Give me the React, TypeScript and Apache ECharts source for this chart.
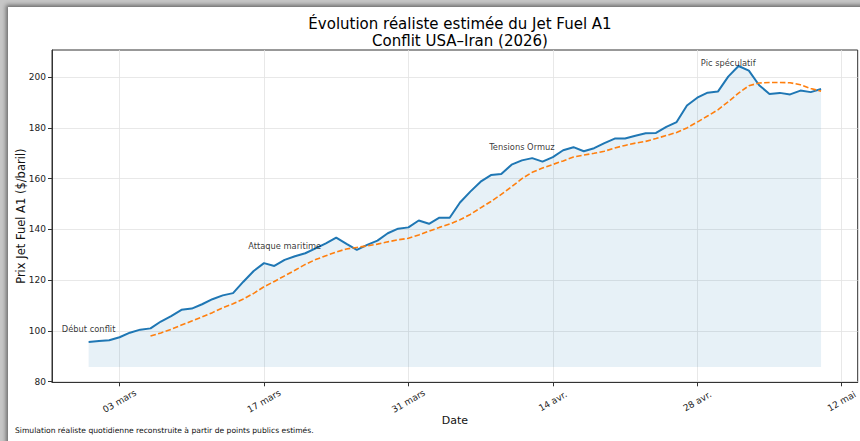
import React, { useEffect, useRef } from "react";
import * as echarts from "echarts";

// Daily prices ($/baril), starting 28 Feb 2026 (day 0)
const prices = [
  95.6, 96.0, 96.3, 97.5, 99.3, 100.5, 101.0, 103.7, 105.8, 108.3,
  108.8, 110.5, 112.5, 114.0, 114.9, 119.4, 123.6, 126.7, 125.6, 128.0,
  129.4, 130.6, 132.5, 134.5, 136.8, 134.3, 131.9, 133.9, 135.6, 138.5,
  140.3, 140.8, 143.5, 142.2, 144.6, 144.6, 150.6, 154.9, 158.8, 161.4,
  161.8, 165.5, 167.2, 168.1, 166.7, 168.5, 171.2, 172.4, 170.8, 172.0,
  174.0, 175.8, 175.8, 176.9, 177.9, 178.0, 180.4, 182.3, 188.8, 191.9,
  193.9, 194.3, 200.2, 204.4, 202.6, 196.8, 193.4, 193.8, 193.2, 194.7,
  194.1, 195.3,
];

// Dashed trend line values, starting at day 6 (06 mars)
const trendStart = 6;
const trend = [
  98.0, 99.2, 100.6, 102.3, 103.9, 105.5, 107.2, 109.1, 110.7, 112.6,
  114.8, 117.4, 119.5, 121.7, 123.9, 126.2, 128.1, 129.6, 131.1, 132.3,
  132.9, 133.5, 134.2, 135.1, 135.9, 136.5, 137.8, 139.3, 140.8, 142.1,
  143.8, 145.9, 148.5, 151.0, 153.8, 156.8, 160.0, 162.5, 164.2, 165.6,
  167.0, 168.5, 169.3, 170.0, 170.8, 172.1, 173.1, 174.0, 174.7, 175.8,
  177.0, 178.2, 180.0, 182.3, 184.7, 187.1, 190.3, 193.7, 196.6, 197.7,
  197.9, 197.9, 197.8, 197.0, 195.5, 194.5,
];

// X ticks (days since 28 Feb)
const tickDays = [3, 17, 31, 45, 59, 73];
const tickLabels = ["03 mars", "17 mars", "31 mars", "14 avr.", "28 avr.", "12 mai"];

const yTicks = [80, 100, 120, 140, 160, 180, 200];

// Annotations (day index, text)
const annotIdx = [0, 19, 42, 62];
const annotTexts = ["Début conflit", "Attaque maritime", "Tensions Ormuz", "Pic spéculatif"];

const fillBase = 85.8;

const FONT = "DejaVu Sans";

export default function App() {
  const ref = useRef<HTMLDivElement>(null);

  useEffect(() => {
    if (!ref.current) return;
    const chart = echarts.init(ref.current, undefined, { renderer: "svg" });
    const option: any = {
      animation: false,
      backgroundColor: "transparent",
      title: {
        text: "Évolution réaliste estimée du Jet Fuel A1\nConflit USA–Iran (2026)",
        left: 455,
        top: 11,
        textAlign: "center",
        textStyle: {
          fontFamily: FONT,
          fontSize: 15,
          fontWeight: "normal",
          color: "#000",
          lineHeight: 16.5,
        },
      },
      grid: {
        left: 52,
        right: 1.5,
        top: 50,
        bottom: 58.7,
        show: true,
        borderColor: "#333",
        borderWidth: 1,
        backgroundColor: "transparent",
      },
      xAxis: {
        type: "value",
        min: -3.55,
        max: 74.55,
        name: "Date",
        nameLocation: "middle",
        nameGap: 33,
        nameMoveOverlap: false,
        nameTextStyle: { fontFamily: FONT, fontSize: 11, color: "#111" },
        axisLine: { show: true, onZero: false, lineStyle: { color: "#333", width: 1 } },
        axisTick: { show: true, customValues: tickDays, length: 4, lineStyle: { color: "#333" } },
        axisLabel: {
          customValues: tickDays,
          formatter: (v: number) => {
            const k = tickDays.indexOf(Math.round(v));
            return k >= 0 ? tickLabels[k] : "";
          },
          rotate: 30,
          margin: 19,
          align: "center",
          verticalAlign: "middle",
          fontFamily: FONT,
          fontSize: 9,
          color: "#222",
        },
        splitLine: { show: true, lineStyle: { color: "#e2e2e2", width: 0.8 } },
      },
      yAxis: {
        type: "value",
        min: 79.75,
        max: 210.7,
        name: "Prix Jet Fuel A1 ($/baril)",
        nameLocation: "middle",
        nameGap: 25,
        nameMoveOverlap: false,
        nameTextStyle: { fontFamily: FONT, fontSize: 11.5, color: "#111" },
        axisLine: { show: true, onZero: false, lineStyle: { color: "#333", width: 1 } },
        axisTick: { show: true, customValues: yTicks, length: 4, lineStyle: { color: "#333" } },
        axisLabel: {
          customValues: yTicks,
          margin: 6,
          fontFamily: FONT,
          fontSize: 9,
          color: "#222",
        },
        splitLine: { show: true, lineStyle: { color: "#e2e2e2", width: 0.8 } },
      },
      graphic: [
        {
          type: "text",
          left: 15,
          top: 426,
          style: {
            text: "Simulation réaliste quotidienne reconstruite à partir de points publics estimés.",
            fontFamily: FONT,
            fontSize: 7.6,
            fill: "#111",
          },
        },
      ],
      series: [
        {
          type: "line",
          name: "Prix",
          data: prices.map((p, i) => [i, p]),
          symbol: "none",
          showSymbol: false,
          lineStyle: { color: "#1f77b4", width: 2 },
          itemStyle: { color: "#1f77b4" },
          areaStyle: { color: "rgba(31,119,180,0.15)", origin: fillBase },
          z: 3,
        },
        {
          type: "line",
          name: "Tendance",
          data: trend.map((v, k) => [k + trendStart, v]),
          symbol: "none",
          showSymbol: false,
          lineStyle: { color: "#ff7f0e", width: 1.6, type: [5.5, 2.4] },
          itemStyle: { color: "#ff7f0e" },
          z: 4,
        },
        {
          type: "scatter",
          data: annotIdx.map((i) => [i, prices[i]]),
          symbolSize: 1,
          itemStyle: { color: "rgba(0,0,0,0)" },
          label: {
            show: true,
            position: "top",
            distance: 9,
            formatter: (p: any) => annotTexts[p.dataIndex],
            fontFamily: FONT,
            fontSize: 8.3,
            color: "#000",
          },
          z: 5,
        },
      ],
    };
    chart.setOption(option);
    return () => chart.dispose();
  }, []);

  return (
    <div
      style={{
        position: "fixed",
        left: 0,
        top: 0,
        width: 860,
        height: 441,
        background: "#c6c6c6",
        overflow: "hidden",
      }}
    >
      <div
        style={{
          position: "absolute",
          left: 8,
          top: 7,
          width: 860,
          height: 441,
          background: "#fff",
          boxShadow: "-1px -1px 4px 1px rgba(0,0,0,0.45)",
        }}
      />
      <div ref={ref} style={{ position: "absolute", left: 0, top: 0, width: 860, height: 441 }} />
    </div>
  );
}
